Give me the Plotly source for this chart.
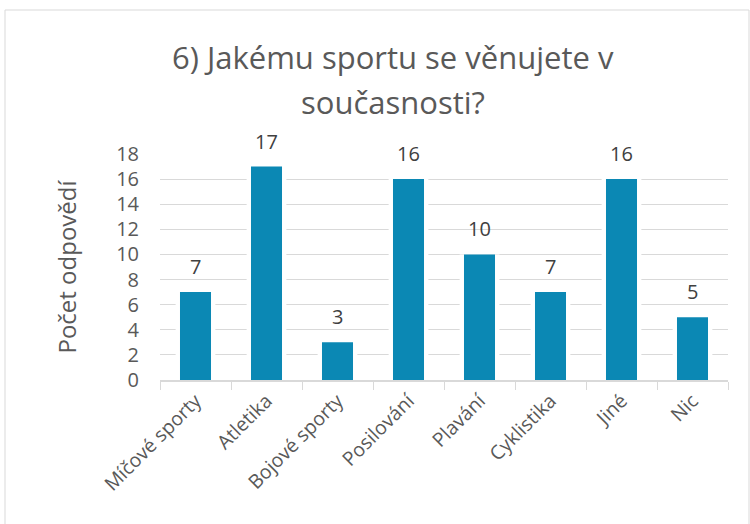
import plotly.graph_objects as go

categories = ["Míčové sporty", "Atletika", "Bojové sporty", "Posilování", "Plavání", "Cyklistika", "Jiné", "Nic"]
values = [7, 17, 3, 16, 10, 7, 16, 5]
y_ticks = [0, 2, 4, 6, 8, 10, 12, 14, 16, 18]
title_lines = ["6) Jakému sportu se věnujete v", "současnosti?"]

W, H = 750, 524
L, R, T, B = 160, 22, 154, 144
pw = W - L - R
ph = H - T - B

def px_x(x):
    return (x - L) / pw

def px_y(y):
    return (H - B - y) / ph

FONT = "Open Sans"
GREY = "#595959"

fig = go.Figure()
# white halo behind bars (separates bars from gridlines)
fig.add_trace(go.Bar(x=categories, y=values, width=0.56,
                     marker=dict(color="white", line=dict(width=0)),
                     hoverinfo="skip", cliponaxis=False))
fig.add_trace(go.Bar(x=categories, y=values, width=0.437,
                     marker=dict(color="#0B88B4", line=dict(width=0)),
                     hoverinfo="skip", cliponaxis=False))

for c, v in zip(categories, values):
    fig.add_annotation(x=c, y=v, text=str(v), showarrow=False, yanchor="bottom",
                       yshift=10, font=dict(family=FONT, size=20, color="#404040"))

for line, yc in zip(title_lines, [57, 102]):
    fig.add_annotation(text=line, xref="paper", yref="paper", x=px_x(393), y=px_y(yc),
                       xanchor="center", yanchor="middle", showarrow=False,
                       font=dict(family=FONT, size=31, color=GREY))

fig.update_layout(
    width=W, height=H,
    margin=dict(l=L, r=R, t=T, b=B, autoexpand=False),
    paper_bgcolor="white", plot_bgcolor="white",
    barmode="overlay",
    showlegend=False,
    xaxis=dict(tickangle=-45, tickfont=dict(family=FONT, size=19.5, color=GREY),
               automargin=False,
               showline=True, linecolor="#D9D9D9", linewidth=1.5,
               ticks="outside", tickson="boundaries", ticklen=8, tickcolor="#D9D9D9",
               showgrid=False),
    yaxis=dict(range=[0, 18], tickvals=y_ticks, showgrid=True, gridcolor="#D9D9D9",
               automargin=False, ticklabelstandoff=20,
               gridwidth=1.2, zeroline=False, showline=False,
               tickfont=dict(family=FONT, size=20, color=GREY),
               title=dict(text="Počet odpovědí", font=dict(family=FONT, size=24, color=GREY), standoff=32)),
    shapes=[dict(type="rect", xref="paper", yref="paper",
                 x0=px_x(5), x1=px_x(749), y0=px_y(530), y1=px_y(10),
                 line=dict(color="#D9D9D9", width=1))],
)

fig.write_html("out.html", config={"displayModeBar": False},
               post_script="document.body.style.margin='0';")
